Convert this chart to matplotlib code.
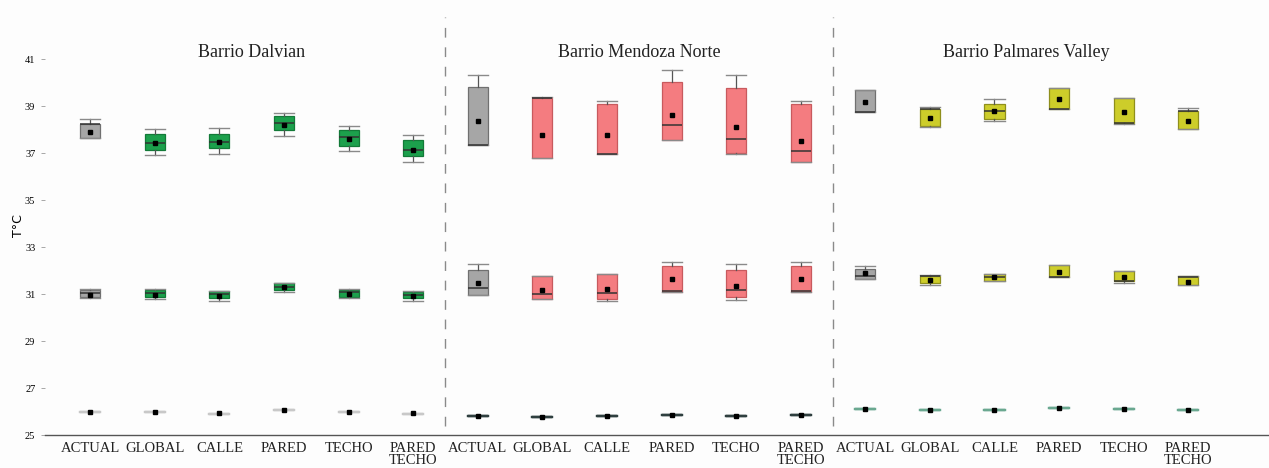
import numpy as np
import matplotlib
matplotlib.use("Agg")
import matplotlib.pyplot as plt

# categories and neighbourhoods
cats = ["ACTUAL", "GLOBAL", "CALLE", "PARED", "TECHO", "PARED\nTECHO"]
barrios = ["Barrio Dalvian", "Barrio Mendoza Norte", "Barrio Palmares Valley"]

# each row: whislo, q1, med, q3, whishi, mean
dalvian_high = [[37.63, 37.63, 38.25, 38.25, 38.44, 37.90],
                [36.94, 37.15, 37.45, 37.80, 38.03, 37.45],
                [36.98, 37.21, 37.49, 37.80, 38.09, 37.49],
                [37.72, 37.97, 38.27, 38.58, 38.71, 38.20],
                [37.08, 37.30, 37.70, 37.97, 38.16, 37.59],
                [36.64, 36.88, 37.15, 37.58, 37.79, 37.16]]
dalvian_mid = [[30.85, 30.88, 31.05, 31.19, 31.22, 30.98],
               [30.79, 30.88, 31.05, 31.16, 31.22, 30.98],
               [30.72, 30.84, 31.00, 31.12, 31.14, 30.93],
               [31.10, 31.19, 31.30, 31.47, 31.47, 31.32],
               [30.85, 30.88, 31.09, 31.19, 31.22, 31.01],
               [30.72, 30.84, 30.98, 31.09, 31.14, 30.93]]
dalvian_low = [[25.98, 25.98, 25.98, 25.98, 25.98, 25.98],
               [25.98, 25.98, 25.98, 25.98, 25.98, 25.98],
               [25.91, 25.91, 25.91, 25.91, 25.91, 25.94],
               [26.05, 26.05, 26.05, 26.05, 26.05, 26.05],
               [25.98, 25.98, 25.98, 25.98, 25.98, 25.98],
               [25.91, 25.91, 25.91, 25.91, 25.91, 25.94]]

mendoza_high = [[37.36, 37.36, 37.36, 39.84, 40.32, 38.36],
                [36.81, 36.81, 39.34, 39.34, 39.40, 37.76],
                [36.95, 36.95, 36.95, 39.11, 39.22, 37.76],
                [37.57, 37.57, 38.20, 40.05, 40.55, 38.64],
                [36.95, 37.00, 37.62, 39.78, 40.32, 38.12],
                [36.61, 36.61, 37.08, 39.11, 39.22, 37.53]]
mendoza_mid = [[30.98, 30.98, 31.26, 32.04, 32.29, 31.47],
               [30.80, 30.80, 31.00, 31.79, 31.79, 31.16],
               [30.72, 30.80, 31.05, 31.86, 31.86, 31.22],
               [31.10, 31.10, 31.12, 32.18, 32.37, 31.63],
               [30.76, 30.88, 31.16, 32.04, 32.29, 31.36],
               [31.10, 31.10, 31.12, 32.18, 32.37, 31.63]]
mendoza_low = [[25.81, 25.81, 25.81, 25.81, 25.81, 25.81],
               [25.75, 25.75, 25.75, 25.75, 25.75, 25.75],
               [25.81, 25.81, 25.81, 25.81, 25.81, 25.81],
               [25.87, 25.87, 25.87, 25.87, 25.87, 25.87],
               [25.81, 25.81, 25.81, 25.81, 25.81, 25.81],
               [25.87, 25.87, 25.87, 25.87, 25.87, 25.87]]

palmares_high = [[38.77, 38.77, 38.77, 39.70, 39.70, 39.19],
                 [38.12, 38.15, 38.87, 38.87, 38.98, 38.49],
                 [38.38, 38.44, 38.80, 39.11, 39.32, 38.80],
                 [38.87, 38.87, 38.87, 39.79, 39.79, 39.32],
                 [38.26, 38.30, 38.30, 39.34, 39.34, 38.77],
                 [38.03, 38.03, 38.80, 38.80, 38.92, 38.36]]
palmares_mid = [[31.64, 31.64, 31.76, 32.08, 32.21, 31.92],
                [31.39, 31.47, 31.79, 31.79, 31.83, 31.60],
                [31.56, 31.56, 31.71, 31.84, 31.84, 31.71],
                [31.71, 31.71, 31.71, 32.22, 32.23, 31.95],
                [31.47, 31.56, 31.56, 31.97, 31.97, 31.71],
                [31.39, 31.39, 31.75, 31.79, 31.79, 31.53]]
palmares_low = [[26.12, 26.12, 26.12, 26.12, 26.12, 26.12],
                [26.07, 26.07, 26.07, 26.07, 26.07, 26.07],
                [26.07, 26.07, 26.07, 26.07, 26.07, 26.07],
                [26.15, 26.15, 26.15, 26.15, 26.15, 26.15],
                [26.12, 26.12, 26.12, 26.12, 26.12, 26.12],
                [26.07, 26.07, 26.07, 26.07, 26.07, 26.07]]

groups = [[dalvian_high, dalvian_mid, dalvian_low],
          [mendoza_high, mendoza_mid, mendoza_low],
          [palmares_high, palmares_mid, palmares_low]]

fills = ["#1ca04c", "#f47c80", "#cdcd2a"]
edges = ["#137a38", "#c85a5e", "#8f8f1c"]
low_line = ["#c8c8c8", "#2f3f3f", "#6aa890"]
gray_fill = "#a6a6a6"

plt.rcParams['font.family'] = ['Liberation Serif', 'DejaVu Serif']

fig = plt.figure(figsize=(12.69, 4.68), dpi=100)
fig.patch.set_facecolor("#fdfdfd")
ax = fig.add_axes([0.0355, 0.0705, 0.9645, 0.893])
ax.set_facecolor("#fdfdfd")

w = 0.31
for k, levels in enumerate(groups):
    for li, rows in enumerate(levels):
        stats = []
        for r in rows:
            stats.append(dict(whislo=r[0], q1=r[1], med=r[2], q3=r[3],
                              whishi=r[4], mean=r[5], fliers=[]))
        pos = [6 * k + j for j in range(6)]
        bp = ax.bxp(stats, positions=pos, widths=w, showmeans=True,
                    patch_artist=True, showfliers=False, capwidths=w,
                    manage_ticks=False,
                    medianprops=dict(color="#333333", lw=1.1),
                    whiskerprops=dict(color="#555555", lw=0.9),
                    capprops=dict(color="#8a8a8a", lw=1),
                    meanprops=dict(marker="s", markersize=3.2,
                                   markerfacecolor="black",
                                   markeredgecolor="black"))
        for j, b in enumerate(bp["boxes"]):
            if li == 2:
                b.set_facecolor(low_line[k])
                b.set_edgecolor(low_line[k])
                b.set_linewidth(1.6)
            elif j == 0:
                b.set_facecolor(gray_fill)
                b.set_edgecolor("#707070")
                b.set_linewidth(0.9)
            else:
                b.set_facecolor(fills[k])
                b.set_edgecolor(edges[k])
                b.set_linewidth(0.9)
        if li == 2:
            for m in bp["medians"] + bp["caps"]:
                m.set_color(low_line[k])
                m.set_linewidth(1.6)

# dashed separators
for xs in [5.5, 11.5]:
    ax.plot([xs, xs], [25.4, 42.8], ls=(0, (7, 7)), color="#8a8a8a", lw=1)

for k, name in enumerate(barrios):
    ax.text(6 * k + 2.5, 41.3, name, ha="center", va="center",
            fontsize=13, color="#222222")

ax.set_xlim(-0.7, 18.25)
ax.set_ylim(25, 42.8)
ax.set_yticks(np.arange(25, 42, 2))
ax.set_yticklabels([str(v) for v in range(25, 42, 2)], fontsize=7.5)
ax.set_xticks(range(18))
ax.set_xticklabels(cats * 3, fontsize=10.5, color="#222222", va="top",
                   linespacing=0.95)
ax.tick_params(axis="x", length=0, pad=5)
ax.tick_params(axis="y", length=3, width=0.6, color="#999999", pad=4)
for s in ["left", "right", "top"]:
    ax.spines[s].set_visible(False)
ax.spines["bottom"].set_color("#555555")
ax.spines["bottom"].set_linewidth(1)
ax.set_ylabel("T°C", family=["DejaVu Sans"], fontsize=9, labelpad=0)

fig.savefig("out.png", dpi=100, facecolor=fig.get_facecolor())
